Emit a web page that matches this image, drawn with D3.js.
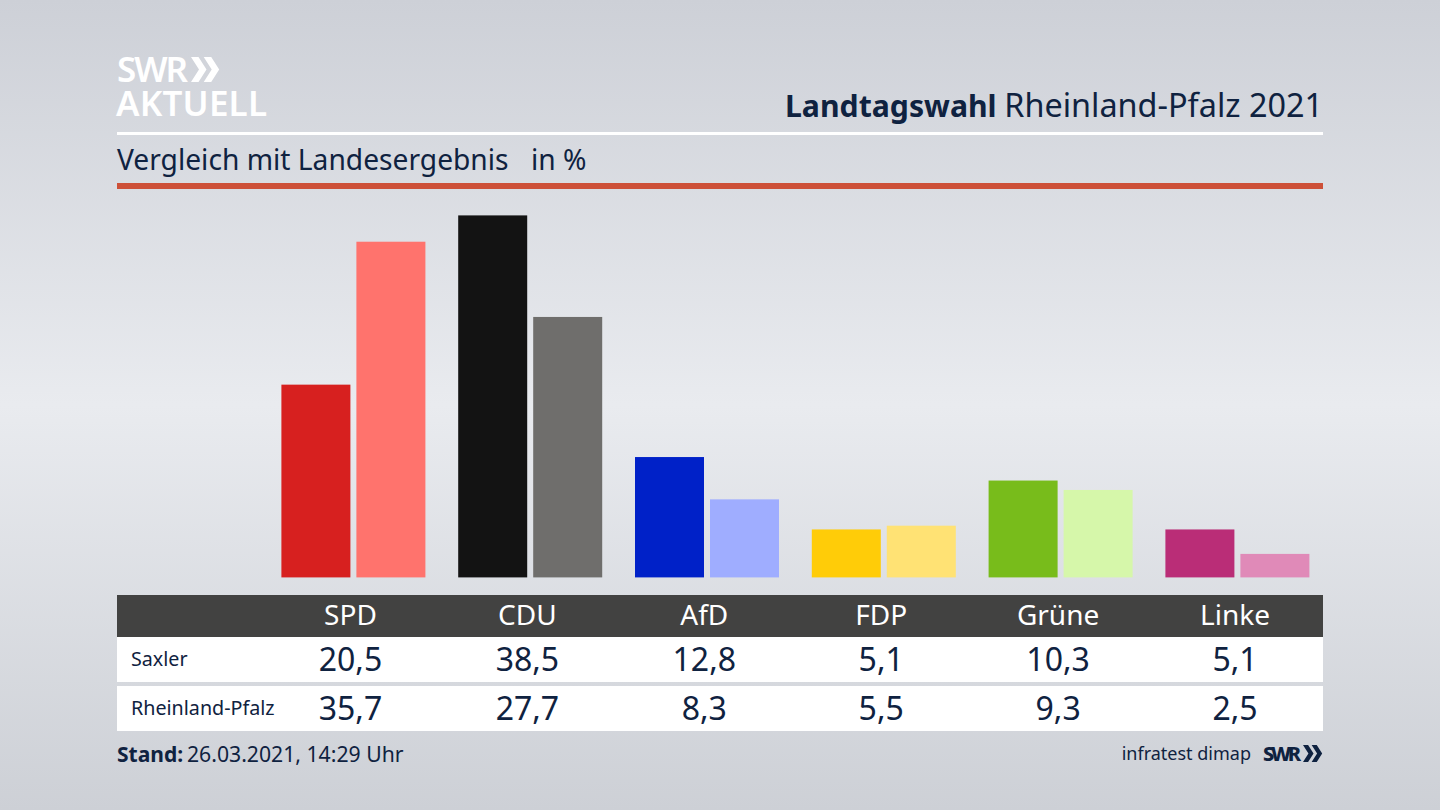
<!DOCTYPE html>
<html>
<head>
<meta charset="utf-8">
<script src="https://cdn.jsdelivr.net/npm/d3@7"></script>
<style>
    html, body { margin: 0; padding: 0; background: #dfe1e6; overflow: hidden; }
    text { font-family: "Noto Sans", sans-serif; }
</style>
</head>
<body>
<svg id="chart" width="1440" height="810"></svg>
<script>
var parties = ['SPD', 'CDU', 'AfD', 'FDP', 'Grüne', 'Linke'];
var rows = ['Saxler', 'Rheinland-Pfalz'];
var saxler = [20.5, 38.5, 12.8, 5.1, 10.3, 5.1];
var landesergebnis = [35.7, 27.7, 8.3, 5.5, 9.3, 2.5];
var colorsDark = ['#d7201f', '#131313', '#0021c8', '#ffcc08', '#78bc1b', '#ba2d77'];
var colorsLight = ['#ff736d', '#6f6e6c', '#9fadff', '#ffe274', '#d6f7aa', '#e08ab8'];

var navy = '#0f2240';
var svg = d3.select('#chart');

//Background: light band in the middle, darker top and bottom
var grad = svg.append('defs').append('linearGradient')
    .attr('id', 'bg').attr('x1', 0).attr('y1', 0).attr('x2', 0).attr('y2', 1);
[[0, '#cdd0d7'], [0.5, '#e9ebef'], [1, '#cdd0d6']].forEach(function(s) {
    grad.append('stop').attr('offset', s[0]).attr('stop-color', s[1]);
});
svg.append('rect').attr('width', 1440).attr('height', 810).attr('fill', 'url(#bg)');

//Scales
var x = d3.scaleBand().domain(parties).range([265, 1325.8]);
var inner = d3.scaleBand().domain(rows).range([-72, 72]).paddingInner(0.08);
var y = d3.scaleLinear().domain([0, 38.5]).range([577.4, 215.4]);
var labelX = d3.scalePoint().domain(parties).range([350.5, 1235]);

function barLayer(values, colors, row) {
    svg.append('g').selectAll('rect')
        .data(parties)
        .join('rect')
        .attr('x', function(d) { return x(d) + x.bandwidth() / 2 + inner(row); })
        .attr('y', function(d, i) { return y(values[i]); })
        .attr('width', inner.bandwidth())
        .attr('height', function(d, i) { return y(0) - y(values[i]); })
        .attr('fill', function(d, i) { return colors[i]; });
}
barLayer(saxler, colorsDark, rows[0]);
barLayer(landesergebnis, colorsLight, rows[1]);

//Header
function chevrons(g, x0, y0, h, color) {
    var w = h * 0.62, t = h * 0.3;
    [0, w * 0.82].forEach(function(dx) {
        g.append('path')
            .attr('d', d3.line()([[x0 + dx, y0], [x0 + dx + t, y0], [x0 + dx + w, y0 + h / 2],
                [x0 + dx + t, y0 + h], [x0 + dx, y0 + h], [x0 + dx + w - t, y0 + h / 2]]) + 'Z')
            .attr('fill', color);
    });
}

var logo = svg.append('g');
logo.append('text').attr('x', 117).attr('y', 82).attr('font-size', 35)
    .attr('font-weight', 600).attr('fill', '#fff').attr('textLength', 71).text('SWR');
chevrons(logo, 191, 57, 25, '#fff');
logo.append('text').attr('x', 116).attr('y', 116).attr('font-size', 35)
    .attr('font-weight', 600).attr('fill', '#fff').attr('textLength', 151).text('AKTUELL');

svg.append('text').attr('x', 785).attr('y', 117).attr('font-size', 30.2)
    .attr('font-weight', 700).attr('fill', navy).text('Landtagswahl');
svg.append('text').attr('x', 1323).attr('y', 117).attr('text-anchor', 'end')
    .attr('font-size', 32.4).attr('fill', navy).text('Rheinland-Pfalz 2021');

svg.append('rect').attr('x', 117).attr('y', 132).attr('width', 1206).attr('height', 3).attr('fill', '#fff');
svg.append('text').attr('x', 117).attr('y', 170).attr('font-size', 28.2).attr('fill', navy)
    .text('Vergleich mit Landesergebnis');
svg.append('text').attr('x', 531).attr('y', 170).attr('font-size', 28.2).attr('fill', navy).text('in %');
svg.append('rect').attr('x', 117).attr('y', 183).attr('width', 1206).attr('height', 6).attr('fill', '#cd5038');

//Table
svg.append('rect').attr('x', 117).attr('y', 595).attr('width', 1206).attr('height', 42).attr('fill', '#424241');
svg.append('rect').attr('x', 117).attr('y', 637).attr('width', 1206).attr('height', 45).attr('fill', '#fff');
svg.append('rect').attr('x', 117).attr('y', 686).attr('width', 1206).attr('height', 45).attr('fill', '#fff');

svg.append('g').selectAll('text')
    .data(parties)
    .join('text')
    .attr('x', function(d) { return labelX(d); })
    .attr('y', 625)
    .attr('text-anchor', 'middle')
    .attr('font-size', 28)
    .attr('fill', '#fff')
    .text(function(d) { return d; });

var fmt = function(v) { return v.toFixed(1).replace('.', ','); };
[[saxler, 671, rows[0]], [landesergebnis, 720, rows[1]]].forEach(function(r) {
    svg.append('text').attr('x', 131).attr('y', r[1] - 5).attr('font-size', 19.7).attr('fill', navy).text(r[2]);
    svg.append('g').selectAll('text')
        .data(r[0])
        .join('text')
        .attr('x', function(d, i) { return labelX(parties[i]); })
        .attr('y', r[1])
        .attr('text-anchor', 'middle')
        .attr('font-size', 32)
        .attr('fill', navy)
        .text(fmt);
});

//Footer
svg.append('text').attr('x', 117).attr('y', 762).attr('font-size', 21)
    .attr('font-weight', 700).attr('fill', navy).text('Stand:');
svg.append('text').attr('x', 187).attr('y', 762).attr('font-size', 21.2)
    .attr('fill', navy).text('26.03.2021, 14:29 Uhr');

svg.append('text').attr('x', 1251).attr('y', 760).attr('text-anchor', 'end')
    .attr('font-size', 18).attr('fill', navy).text('infratest dimap');
svg.append('text').attr('x', 1263).attr('y', 761).attr('font-size', 20).attr('font-weight', 800)
    .attr('fill', navy).attr('textLength', 38).text('SWR');
chevrons(svg, 1303, 745, 17, navy);
</script>
</body>
</html>
